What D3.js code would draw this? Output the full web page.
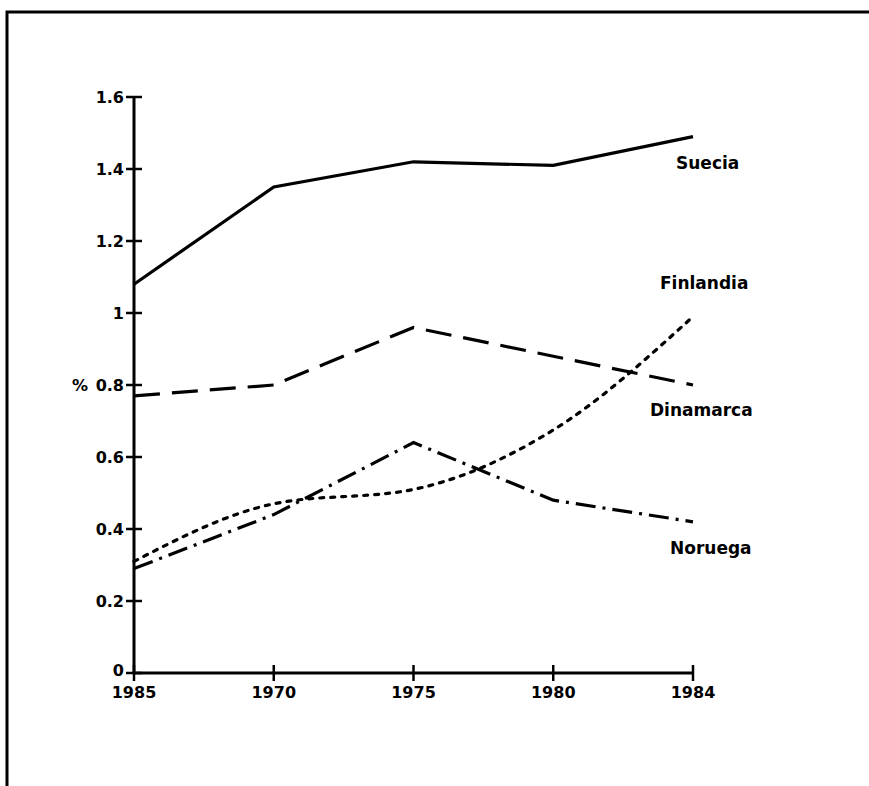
<!DOCTYPE html>
<html>
<head>
<meta charset="utf-8">
<script src="https://cdn.jsdelivr.net/npm/d3@7"></script>
<style>
  body { margin: 0; background: #fff; }
  svg { display: block; }
  text { font-family: "DejaVu Sans", sans-serif; font-weight: bold; fill: #000; }
</style>
</head>
<body>
<svg width="869" height="786"></svg>
<script>
// years (the first label is printed as 1985 in the original)
var years = ["1965", "1970", "1975", "1980", "1984"];
var yearLabels = ["1985", "1970", "1975", "1980", "1984"];
var yTicks = [0, 0.2, 0.4, 0.6, 0.8, 1, 1.2, 1.4, 1.6];

// series values, %
var suecia    = [1.08, 1.35, 1.42, 1.41, 1.49];
var dinamarca = [0.77, 0.80, 0.96, 0.88, 0.80];
var finlandia = [0.31, 0.47, 0.51, 0.675, 0.99];
var noruega   = [0.29, 0.44, 0.64, 0.48, 0.42];

var series = [
  { name: "Suecia",    values: suecia,    dash: null,       curve: d3.curveLinear,    lx: 676, ly: 169 },
  { name: "Finlandia", values: finlandia, dash: "4 7",      curve: d3.curveMonotoneX, lx: 660, ly: 289 },
  { name: "Dinamarca", values: dinamarca, dash: "26 12",    curve: d3.curveLinear,    lx: 650, ly: 416 },
  { name: "Noruega",   values: noruega,   dash: "20 7 3 7", curve: d3.curveLinear,    lx: 670, ly: 554 }
];

var svg = d3.select("svg");

// outer frame, runs off the right and bottom edges
svg.append("path")
  .attr("d", "M7,790 L7,12 L875,12")
  .attr("fill", "none")
  .attr("stroke", "#000")
  .attr("stroke-width", 3);

var x = d3.scalePoint().domain(years).range([134, 693]);
var y = d3.scaleLinear().domain([0, 1]).range([673, 313]);

// y axis
var g = svg.append("g");
g.append("line")
  .attr("x1", 134).attr("x2", 134)
  .attr("y1", y(1.6)).attr("y2", y(0))
  .attr("stroke", "#000").attr("stroke-width", 3);
g.selectAll(".ytick")
  .data(yTicks)
  .enter().append("line")
  .attr("x1", 126).attr("x2", 142)
  .attr("y1", function (d) { return y(d); })
  .attr("y2", function (d) { return y(d); })
  .attr("stroke", "#000").attr("stroke-width", 2.5);
g.selectAll(".ylab")
  .data(yTicks)
  .enter().append("text")
  .attr("x", 124)
  .attr("y", function (d) { return y(d); })
  .attr("dy", function (d) { return d === 0 ? "0.2em" : "0.36em"; })
  .attr("text-anchor", "end")
  .style("font-size", "16px")
  .text(function (d) { return d; });
g.append("text")
  .attr("x", 72).attr("y", y(0.8))
  .attr("dy", "0.36em")
  .style("font-size", "16px")
  .text("%");

// x axis
g.append("line")
  .attr("x1", x(years[0])).attr("x2", x(years[years.length - 1]))
  .attr("y1", y(0)).attr("y2", y(0))
  .attr("stroke", "#000").attr("stroke-width", 3);
g.selectAll(".xtick")
  .data(years)
  .enter().append("line")
  .attr("x1", function (d) { return x(d); })
  .attr("x2", function (d) { return x(d); })
  .attr("y1", y(0) - 8).attr("y2", y(0) + 8)
  .attr("stroke", "#000").attr("stroke-width", 2.5);
g.selectAll(".xlab")
  .data(years)
  .enter().append("text")
  .attr("x", function (d) { return x(d); })
  .attr("y", y(0) + 25)
  .attr("text-anchor", "middle")
  .style("font-size", "16px")
  .text(function (d, i) { return yearLabels[i]; });

// lines
series.forEach(function (s) {
  var line = d3.line()
    .x(function (d, i) { return x(years[i]); })
    .y(function (d) { return y(d); })
    .curve(s.curve);
  svg.append("path")
    .datum(s.values)
    .attr("d", line)
    .attr("fill", "none")
    .attr("stroke", "#000")
    .attr("stroke-width", 3.2)
    .attr("stroke-dasharray", s.dash)
    .attr("stroke-linecap", s.dash === "4 7" ? "round" : "butt");
  svg.append("text")
    .attr("x", s.lx).attr("y", s.ly)
    .style("font-size", "17px")
    .text(s.name);
});
</script>
</body>
</html>
